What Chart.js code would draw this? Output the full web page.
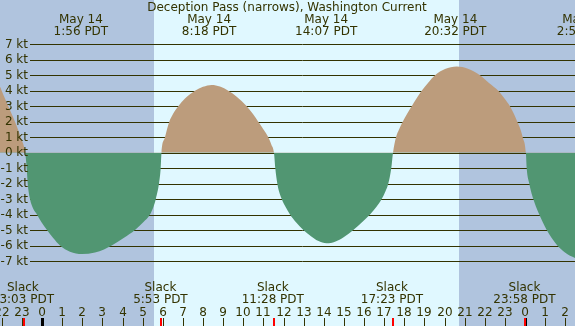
<!DOCTYPE html>
<html>
<head>
<meta charset="utf-8">
<title>Deception Pass (narrows), Washington Current</title>
<script src="https://cdn.jsdelivr.net/npm/chart.js@4.4.1/dist/chart.umd.min.js"></script>
<style>
    html, body { margin: 0; padding: 0; background: #e0f8ff; }
    #wrap { width: 575px; height: 326px; position: relative; }
</style>
</head>
<body>
<div id="wrap"><canvas id="currentChart"></canvas></div>
<script>
// Hours from midnight May 14 (PDT) and current speed in knots (+ flood / - ebb)
const hours = [
    -2.6, -2.086, -2.002, -1.838, -1.674, -1.505, -1.341, -1.192, -1.058, -0.835,
    -0.760, -0.710, -0.596, -0.447, -0.248, -0.025, 0.248, 0.546, 0.894, 1.391, 1.987, 2.633, 3.080, 3.463,
    4.074, 4.620, 5.030, 5.365, 5.540, 5.655, 5.812, 5.897, 5.936,
    6.110, 6.324, 6.508, 6.771, 7.104, 7.601, 7.998, 8.430, 8.842, 9.255, 9.687, 10.169, 10.482, 10.745,
    11.003, 11.242, 11.401, 11.525,
    11.589, 11.689, 11.773, 11.908, 12.096, 12.320, 12.618, 12.981, 13.363, 13.711, 14.143, 14.555, 15.002,
    15.464, 15.897, 16.294, 16.617, 16.875, 17.064, 17.203, 17.352, 17.437,
    17.586, 17.735, 17.918, 18.132, 18.366, 18.604, 18.862, 19.175, 19.523, 20.020, 20.601, 21.162, 21.759,
    22.206, 22.668, 22.976, 23.249, 23.447, 23.612, 23.771, 23.880, 24.039,
    24.078, 24.207, 24.292, 24.406, 24.540, 24.704, 24.878, 25.072, 25.311, 25.599, 25.981, 26.478, 26.975, 27.472
];
const knots = [
    4.8, 4.26, 4.0, 3.5, 3.0, 2.5, 2.0, 1.5, 1.0, 0,
    -1.0, -2.0, -3.0, -3.6, -4.0, -4.5, -5.0, -5.5, -6.0, -6.4, -6.55, -6.45, -6.25, -6.0,
    -5.5, -5.0, -4.5, -4.0, -3.5, -3.0, -2.0, -1.0, 0,
    1.0, 2.0, 2.5, 3.0, 3.5, 4.0, 4.25, 4.37, 4.27, 4.0, 3.6, 3.0, 2.5, 2.0,
    1.5, 1.0, 0.5, 0,
    -1.0, -2.0, -2.5, -3.0, -3.5, -4.0, -4.5, -5.0, -5.4, -5.7, -5.85, -5.75, -5.45,
    -5.0, -4.5, -4.0, -3.5, -3.0, -2.5, -2.0, -1.0, 0,
    1.0, 1.5, 2.0, 2.5, 3.0, 3.5, 4.0, 4.5, 5.0, 5.4, 5.56, 5.42, 5.0,
    4.5, 4.0, 3.5, 3.0, 2.5, 2.0, 1.5, 1.0, 0,
    -1.0, -2.0, -2.5, -3.0, -3.5, -4.0, -4.5, -5.0, -5.5, -6.0, -6.45, -6.8, -6.95, -6.9
];

// Maximum current times (top labels)
const maxTimes = [1.933, 8.3, 14.117, 20.533, 26.93];
const maxDates = ['May 14', 'May 14', 'May 14', 'May 14', 'May 15'];
const maxLabels = ['1:56 PDT', '8:18 PDT', '14:07 PDT', '20:32 PDT', '2:56 PDT'];

// Slack water times (bottom labels)
const slackTimes = [-0.95, 5.883, 11.467, 17.383, 23.967];
const slackLabels = ['23:03 PDT', '5:53 PDT', '11:28 PDT', '17:23 PDT', '23:58 PDT'];

// Hour ticks along the bottom
const hourTicks = [-2, -1, 0, 1, 2, 3, 4, 5, 6, 7, 8, 9, 10, 11, 12, 13, 14, 15, 16, 17, 18, 19, 20, 21, 22, 23, 24, 25, 26];
const hourLabels = ['22', '23', '0', '1', '2', '3', '4', '5', '6', '7', '8', '9', '10', '11', '12', '13', '14', '15', '16', '17', '18', '19', '20', '21', '22', '23', '0', '1', '2'];
const midnights = [0, 24];

// Knot levels for the horizontal rules
const knotLevels = [7, 6, 5, 4, 3, 2, 1, 0, -1, -2, -3, -4, -5, -6, -7];

// Daylight window (sunrise, sunset)
const sunrise = 5.56;
const sunset = 20.72;

const TEXT = '#333300';
const FONT = '12px "DejaVu Sans"';

const backdrop = {
    id: 'backdrop',
    beforeDatasetsDraw(chart) {
        const { ctx, chartArea, scales: { x, y } } = chart;
        ctx.save();
        // night / day shading
        ctx.fillStyle = '#b0c4de';
        ctx.fillRect(chartArea.left, chartArea.top, chartArea.right - chartArea.left, chartArea.bottom - chartArea.top);
        const x0 = x.getPixelForValue(sunrise);
        const x1 = x.getPixelForValue(sunset);
        ctx.fillStyle = '#e0f8ff';
        ctx.fillRect(Math.round(x0), chartArea.top, Math.round(x1) - Math.round(x0), chartArea.bottom - chartArea.top);
        // knot rules
        ctx.strokeStyle = TEXT;
        ctx.lineWidth = 1;
        knotLevels.forEach(k => {
            const py = Math.round(y.getPixelForValue(k)) + 0.5;
            ctx.beginPath();
            ctx.moveTo(30, py);
            ctx.lineTo(chartArea.right, py);
            ctx.stroke();
        });
        ctx.restore();
    },
    afterDraw(chart) {
        const { ctx, chartArea, scales: { x, y } } = chart;
        ctx.save();
        ctx.font = FONT;
        ctx.fillStyle = TEXT;

        // title
        ctx.textAlign = 'center';
        ctx.textBaseline = 'alphabetic';
        ctx.fillText('Deception Pass (narrows), Washington Current', 287, 11);

        // max current labels
        maxTimes.forEach((t, i) => {
            const px = x.getPixelForValue(t);
            ctx.fillText(maxDates[i], px, 23);
            ctx.fillText(maxLabels[i], px, 35);
        });

        // knot labels
        ctx.textAlign = 'right';
        ctx.textBaseline = 'middle';
        knotLevels.forEach(k => {
            ctx.fillText(k + ' kt', 28, y.getPixelForValue(k) + 0.5);
        });

        // slack labels
        ctx.textAlign = 'center';
        ctx.textBaseline = 'alphabetic';
        slackTimes.forEach((t, i) => {
            const px = x.getPixelForValue(t);
            ctx.fillText('Slack', px, 291);
            ctx.fillText(slackLabels[i], px, 303);
        });

        // hour labels and ticks
        hourTicks.forEach((h, i) => {
            const px = Math.round(x.getPixelForValue(h));
            ctx.fillText(hourLabels[i], px, 316);
            ctx.fillRect(px, 318, 1, chartArea.bottom - 318);
        });
        midnights.forEach(h => {
            const px = Math.round(x.getPixelForValue(h));
            ctx.fillStyle = '#000000';
            ctx.fillRect(px - 1, 318, 3, chartArea.bottom - 318);
        });
        ctx.fillStyle = '#ff0000';
        slackTimes.forEach(t => {
            const px = Math.round(x.getPixelForValue(t));
            ctx.fillRect(px, 318, 2, chartArea.bottom - 318);
        });
        ctx.restore();
    }
};

new Chart(document.getElementById('currentChart'), {
    type: 'line',
    data: {
        datasets: [{
            label: 'Current',
            data: hours.map((h, i) => ({ x: h, y: knots[i] })),
            borderWidth: 0,
            borderColor: 'rgba(0,0,0,0)',
            pointRadius: 0,
            cubicInterpolationMode: 'monotone',
            fill: {
                target: 'origin',
                above: '#bc9c7c',
                below: '#519672'
            }
        }]
    },
    options: {
        responsive: true,
        maintainAspectRatio: false,
        animation: false,
        layout: { padding: 0 },
        scales: {
            x: { type: 'linear', min: -2.086, max: 26.478, display: false },
            y: { type: 'linear', min: -11.2, max: 9.86, display: false }
        },
        plugins: {
            legend: { display: false },
            tooltip: { enabled: false }
        }
    },
    plugins: [backdrop]
});
</script>
</body>
</html>
